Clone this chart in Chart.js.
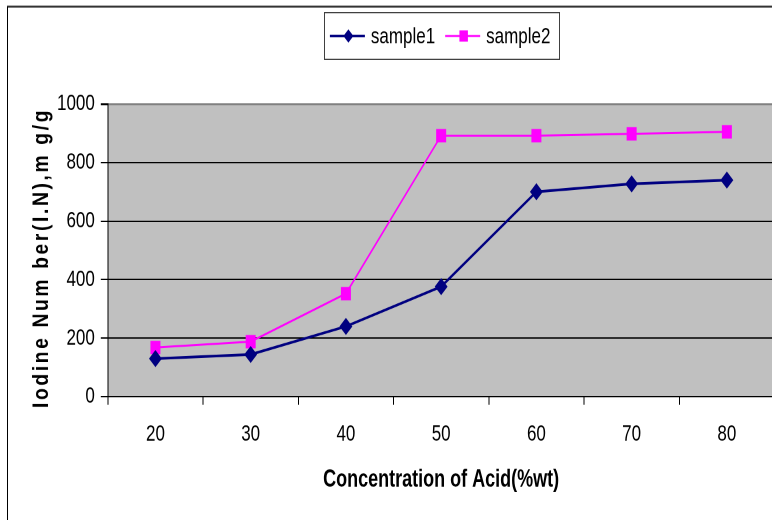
<!DOCTYPE html>
<html>
<head>
<meta charset="utf-8">
<script src="https://cdn.jsdelivr.net/npm/chart.js@4"></script>
<style>
  html, body { margin: 0; padding: 0; background: #fff; overflow: hidden; }
  #chart { display: block; width: 782px; height: 520px; }
</style>
</head>
<body>
<canvas id="chart" width="782" height="390" style="width:782px;height:520px"></canvas>
<script>
const concentrations = ["20", "30", "40", "50", "60", "70", "80"];
const sample1 = [130, 144, 240, 376, 700, 727, 740];
const sample2 = [168, 188, 352, 892, 892, 898, 905];
const seriesNames = ["sample1", "sample2"];
const yTicks = [0, 200, 400, 600, 800, 1000];

const xTitle = "Concentration of Acid(%wt)";
const yTitle = "Iodine Num ber(I.N),m g/g";
const fontFamily = '"Liberation Sans", Arial, sans-serif';

// white page, the outer frame and the grey plot area
const backdrop = {
    id: "backdrop",
    beforeDraw(chart) {
        const { ctx, chartArea: a } = chart;
        ctx.save();
        ctx.fillStyle = "#fff";
        ctx.fillRect(0, 0, chart.width, chart.height);
        ctx.fillStyle = "#c0c0c0";
        ctx.fillRect(a.left, a.top, a.right - a.left, a.bottom - a.top);
        ctx.strokeStyle = "#333";
        ctx.lineWidth = 1.5;
        ctx.beginPath();
        ctx.moveTo(7, 5);
        ctx.lineTo(chart.width, 5);
        ctx.stroke();
        ctx.strokeStyle = "#000";
        ctx.lineWidth = 1;
        ctx.beginPath();
        ctx.moveTo(7.5, 5);
        ctx.lineTo(7.5, chart.height);
        ctx.stroke();
        ctx.restore();
    }
};

function drawMarker(ctx, style, x, y, r, color) {
    ctx.fillStyle = color;
    ctx.beginPath();
    if (style === "rectRot") {
        ctx.moveTo(x, y - r);
        ctx.lineTo(x + r, y);
        ctx.lineTo(x, y + r);
        ctx.lineTo(x - r, y);
    } else {
        const s = r * Math.SQRT1_2;
        ctx.rect(x - s, y - s, 2 * s, 2 * s);
    }
    ctx.closePath();
    ctx.fill();
}

// boxed legend centred over the plot, plus the spaced-out y title
const extras = {
    id: "extras",
    afterDraw(chart) {
        const { ctx, chartArea: a } = chart;
        ctx.save();
        ctx.font = "17px " + fontFamily;
        const lineLen = 35, gap = 6, itemGap = 10, pad = 6;
        const widths = chart.data.datasets.map(ds => ctx.measureText(ds.label).width);
        const total = pad + widths.reduce((s, w) => s + lineLen + gap + w, 0) + itemGap + pad + 2;
        const cx = (a.left + a.right) / 2;
        const top = 9, height = 35;
        let x = cx - total / 2;
        ctx.strokeStyle = "#404040";
        ctx.lineWidth = 1;
        ctx.strokeRect(Math.round(x) + 0.5, top + 0.5, Math.round(total), height);
        const cy = top + height / 2 + 0.5;
        x += pad;
        chart.data.datasets.forEach((ds, i) => {
            ctx.strokeStyle = ds.borderColor;
            ctx.lineWidth = ds.borderWidth;
            ctx.beginPath();
            ctx.moveTo(x, cy);
            ctx.lineTo(x + lineLen, cy);
            ctx.stroke();
            drawMarker(ctx, ds.pointStyle, x + lineLen / 2 + 1, cy, ds.pointRadius, ds.borderColor);
            x += lineLen + gap;
            ctx.fillStyle = "#000";
            ctx.textAlign = "left";
            ctx.textBaseline = "middle";
            ctx.fillText(ds.label, x, cy + 1);
            x += widths[i] + itemGap;
        });

        // rotated axis title, letter spaced and squeezed to the plot height
        ctx.translate(42, 193.5);
        ctx.rotate(-Math.PI / 2);
        ctx.font = "bold 22px " + fontFamily;
        ctx.letterSpacing = "3px";
        const w = ctx.measureText(yTitle).width;
        ctx.scale(225 / w, 1);
        ctx.fillStyle = "#000";
        ctx.textAlign = "center";
        ctx.textBaseline = "middle";
        ctx.fillText(yTitle, 0, 0);
        ctx.restore();
    }
};

new Chart(document.getElementById("chart"), {
    type: "line",
    data: {
        labels: concentrations,
        datasets: [
            {
                label: seriesNames[0],
                data: sample1,
                borderColor: "#000080",
                backgroundColor: "#000080",
                borderWidth: 2,
                pointStyle: "rectRot",
                pointRadius: 5,
                tension: 0
            },
            {
                label: seriesNames[1],
                data: sample2,
                borderColor: "#ff00ff",
                backgroundColor: "#ff00ff",
                borderWidth: 1.5,
                pointStyle: "rect",
                pointRadius: 6,
                tension: 0
            }
        ]
    },
    options: {
        responsive: false,
        devicePixelRatio: 2,
        animation: false,
        layout: { padding: { top: 78, left: 51, right: 0, bottom: 19 } },
        plugins: {
            legend: { display: false },
            tooltip: { enabled: false }
        },
        scales: {
            x: {
                offset: true,
                grid: {
                    offset: true,
                    drawOnChartArea: false,
                    tickLength: 6,
                    tickColor: "#000"
                },
                border: { color: "#000", width: 1 },
                ticks: {
                    color: "#000",
                    padding: 12,
                    maxRotation: 0,
                    font: { family: fontFamily, size: 17 }
                },
                title: {
                    display: true,
                    text: xTitle,
                    color: "#000",
                    padding: { top: 1.5, bottom: 0 },
                    font: { family: fontFamily, size: 18, weight: "bold" }
                }
            },
            y: {
                min: 0,
                max: 1000,
                afterBuildTicks(scale) {
                    scale.ticks = yTicks.map(v => ({ value: v }));
                },
                grid: {
                    color: c => c.tick && c.tick.value === 1000 ? "#808080" : (c.tick && c.tick.value === 0 ? "rgba(0,0,0,0)" : "#000"),
                    lineWidth: c => c.tick && c.tick.value === 1000 ? 1.5 : 1,
                    tickLength: 7,
                    tickColor: "#000"
                },
                border: { color: "#000", width: 1 },
                ticks: {
                    color: "#000",
                    padding: 6,
                    callback: v => String(v),
                    font: { family: fontFamily, size: 17 }
                }
            }
        }
    },
    plugins: [backdrop, extras]
});
</script>
</body>
</html>
